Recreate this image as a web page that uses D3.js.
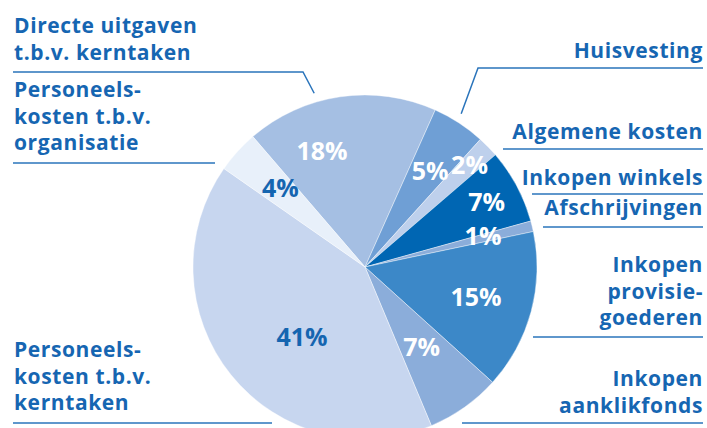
<!DOCTYPE html>
<html>
<head>
<meta charset="utf-8">
<script src="https://cdn.jsdelivr.net/npm/d3@7"></script>
<style>
  html, body { margin: 0; padding: 0; background: #fff; }
  svg text { font-family: "Open Sans", Lato, sans-serif; font-weight: 700; }
</style>
</head>
<body>
<svg id="chart" width="707" height="428"></svg>
<script>
// slices, clockwise starting at the "Directe uitgaven" slice
const categories = [
  "Directe uitgaven t.b.v. kerntaken",
  "Huisvesting",
  "Algemene kosten",
  "Inkopen winkels",
  "Afschrijvingen",
  "Inkopen provisiegoederen",
  "Inkopen aanklikfonds",
  "Personeelskosten t.b.v. kerntaken",
  "Personeelskosten t.b.v. organisatie"
];
const values = [18, 5, 2, 7, 1, 15, 7, 41, 4];
const percentLabels = ["18%", "5%", "2%", "7%", "1%", "15%", "7%", "41%", "4%"];
// label text as it is broken into lines in the picture
const labelLines = [
  ["Directe uitgaven", "t.b.v. kerntaken"],
  ["Huisvesting"],
  ["Algemene kosten"],
  ["Inkopen winkels"],
  ["Afschrijvingen"],
  ["Inkopen", "provisie-", "goederen"],
  ["Inkopen", "aanklikfonds"],
  ["Personeels-", "kosten t.b.v.", "kerntaken"],
  ["Personeels-", "kosten t.b.v.", "organisatie"]
];

const colors = ["#a5bfe3", "#6f9fd5", "#bed0ec", "#0066b3", "#8badda",
                "#3c88c8", "#8badda", "#c7d6ef", "#e8f0fa"];
const pctColors = ["#fff", "#fff", "#fff", "#fff", "#fff", "#fff", "#fff", "#1565b0", "#1565b0"];
const textColor = "#1666b2";
const lineColor = "#2a74bb";

// placement of each slice's percent label and outside label
const pctPlace = [
  { r: 124, da: -12 }, { r: 116, da: 1 }, { r: 146, da: 0 }, { r: 138, da: 0 },
  { r: 122, da: -1 }, { r: 115, da: 0 }, { r: 98, da: 0 }, { r: 94, da: -9 }, { r: 116, da: 1 }
];
const labelPlace = [
  { side: "left",  y: 33,  x0: 13,  x1: 303, line: 72,  leader: { da: -8 } },
  { side: "right", y: 58,  x0: 478, x1: 703, line: 68,  leader: { da: -1 } },
  { side: "right", y: 139, x0: 503, x1: 703, line: 149 },
  { side: "right", y: 185, x0: 532, x1: 703, line: 194 },
  { side: "right", y: 215, x0: 543, x1: 703, line: 227 },
  { side: "right", y: 272, x0: 533, x1: 703, line: 337 },
  { side: "right", y: 386, x0: 462, x1: 703, line: 423 },
  { side: "left",  y: 357, x0: 13,  x1: 272, line: 423 },
  { side: "left",  y: 97,  x0: 13,  x1: 215, line: 163 }
];

const width = 707, height = 428;
const cx = 365, cy = 267, radius = 172;
const lineHeight = 26.5;
const deg = Math.PI / 180;

const svg = d3.select("#chart");

const pie = d3.pie().sort(null).value(d => d)
  .startAngle(-40.7 * deg).endAngle(-40.7 * deg + 2 * Math.PI);
const arcs = pie(values);
const arc = d3.arc().innerRadius(0).outerRadius(radius);

const g = svg.append("g").attr("transform", `translate(${cx},${cy})`);

g.selectAll("path.slice")
  .data(arcs)
  .enter()
  .append("path")
    .attr("class", "slice")
    .attr("d", arc)
    .attr("fill", (d, i) => colors[i])
    .attr("stroke", "#fff")
    .attr("stroke-width", 0.4);

// percent labels
g.selectAll("text.pct")
  .data(arcs)
  .enter()
  .append("text")
    .attr("class", "pct")
    .attr("transform", (d, i) => {
      const a = (d.startAngle + d.endAngle) / 2 + pctPlace[i].da * deg;
      const r = pctPlace[i].r;
      return `translate(${Math.sin(a) * r},${-Math.cos(a) * r})`;
    })
    .attr("text-anchor", "middle")
    .attr("dy", "0.36em")
    .attr("font-size", 25)
    .attr("fill", (d, i) => pctColors[i])
    .text((d, i) => percentLabels[i]);

// outside labels with underline
arcs.forEach((d, i) => {
  const p = labelPlace[i];
  const right = p.side === "right";
  const t = svg.append("text")
    .attr("x", right ? p.x1 : p.x0 + 1)
    .attr("y", p.y)
    .attr("text-anchor", right ? "end" : "start")
    .attr("font-size", 21)
    .attr("letter-spacing", 0.6)
    .attr("fill", textColor);
  labelLines[i].forEach((line, k) => {
    t.append("tspan")
      .attr("x", right ? p.x1 : p.x0 + 1)
      .attr("y", p.y + k * lineHeight)
      .text(line);
  });

  const pts = [[p.x0, p.line], [p.x1, p.line]];
  if (p.leader) {
    const a = (d.startAngle + d.endAngle) / 2 + p.leader.da * deg;
    const r = radius + 9;
    const end = [cx + Math.sin(a) * r, cy - Math.cos(a) * r];
    if (right) pts.unshift(end); else pts.push(end);
  }
  svg.append("path")
    .attr("d", d3.line()(pts))
    .attr("fill", "none")
    .attr("stroke", lineColor)
    .attr("stroke-width", 1.5);
});
</script>
</body>
</html>
